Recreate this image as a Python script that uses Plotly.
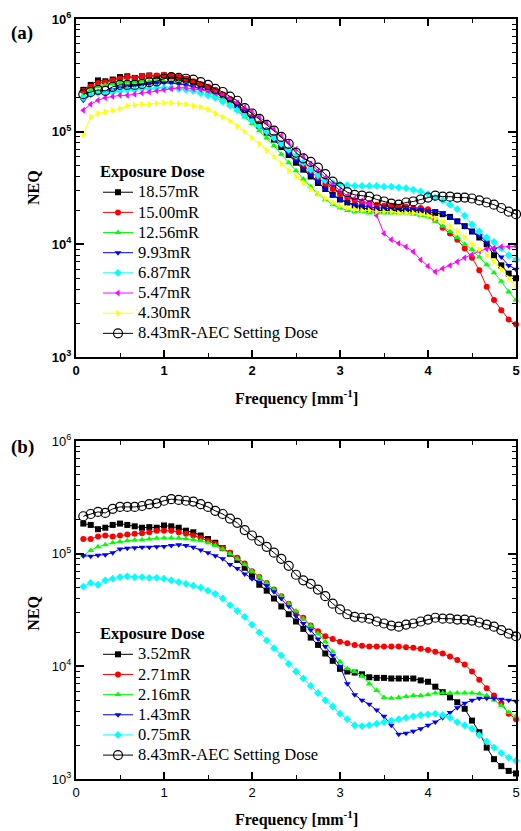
import plotly.graph_objects as go

# Spatial frequency sampling (mm^-1)
freq = [0.083, 0.167, 0.25, 0.333, 0.417, 0.5, 0.583, 0.667, 0.75, 0.833, 0.917, 1.0,
        1.083, 1.167, 1.25, 1.333, 1.417, 1.5, 1.583, 1.667, 1.75, 1.833, 1.917, 2.0,
        2.083, 2.167, 2.25, 2.333, 2.417, 2.5, 2.583, 2.667, 2.75, 2.833, 2.917, 3.0,
        3.083, 3.167, 3.25, 3.333, 3.417, 3.5, 3.583, 3.667, 3.75, 3.833, 3.917, 4.0,
        4.083, 4.167, 4.25, 4.333, 4.417, 4.5, 4.583, 4.667, 4.75, 4.833, 4.917, 5.0]

# AEC setting dose (shown in both panels)
neq_aec = [2.15e5, 2.25e5, 2.35e5, 2.3e5, 2.5e5, 2.6e5, 2.6e5, 2.6e5, 2.65e5, 2.75e5, 2.8e5, 2.95e5,
           3.05e5, 3.0e5, 2.95e5, 2.9e5, 2.75e5, 2.6e5, 2.4e5, 2.25e5, 2.05e5, 1.88e5, 1.62e5, 1.45e5,
           1.3e5, 1.15e5, 1.02e5, 9.0e4, 7.8e4, 6.5e4, 5.8e4, 5.4e4, 4.8e4, 4.2e4, 3.6e4, 3.2e4,
           2.9e4, 2.75e4, 2.7e4, 2.65e4, 2.5e4, 2.4e4, 2.3e4, 2.25e4, 2.35e4, 2.4e4, 2.5e4, 2.6e4,
           2.7e4, 2.65e4, 2.65e4, 2.6e4, 2.6e4, 2.55e4, 2.45e4, 2.35e4, 2.25e4, 2.1e4, 1.95e4, 1.85e4]

# Panel (a): higher exposure doses
neq_1857 = [2.35e5, 2.6e5, 2.85e5, 2.8e5, 2.9e5, 3.05e5, 3.1e5, 3.0e5, 3.1e5, 3.15e5, 3.1e5, 3.15e5,
            3.1e5, 3.0e5, 2.9e5, 2.75e5, 2.6e5, 2.45e5, 2.3e5, 2.1e5, 1.9e5, 1.7e5, 1.5e5, 1.3e5,
            1.12e5, 9.8e4, 8.5e4, 7.3e4, 6.2e4, 5.3e4, 4.6e4, 4.0e4, 3.5e4, 3.1e4, 2.75e4, 2.5e4,
            2.35e4, 2.2e4, 2.1e4, 2.05e4, 2.0e4, 2.0e4, 2.0e4, 2.0e4, 2.0e4, 2.0e4, 2.0e4, 1.95e4,
            1.9e4, 1.85e4, 1.75e4, 1.6e4, 1.45e4, 1.3e4, 1.15e4, 1.0e4, 8.0e3, 6.5e3, 5.5e3, 5.0e3]
neq_1500 = [2.3e5, 2.5e5, 2.7e5, 2.75e5, 2.85e5, 2.95e5, 3.05e5, 3.0e5, 3.1e5, 3.15e5, 3.15e5, 3.2e5,
            3.15e5, 3.05e5, 2.95e5, 2.8e5, 2.65e5, 2.5e5, 2.35e5, 2.15e5, 1.95e5, 1.75e5, 1.55e5, 1.35e5,
            1.18e5, 1.03e5, 9.0e4, 7.8e4, 6.7e4, 5.8e4, 5.0e4, 4.4e4, 3.9e4, 3.45e4, 3.1e4, 2.8e4,
            2.6e4, 2.45e4, 2.35e4, 2.3e4, 2.25e4, 2.2e4, 2.2e4, 2.15e4, 2.15e4, 2.1e4, 2.1e4, 2.05e4,
            1.65e4, 1.4e4, 1.25e4, 1.1e4, 9.2e3, 7.6e3, 5.9e3, 4.2e3, 3.2e3, 2.6e3, 2.15e3, 1.95e3]
neq_1256 = [2.1e5, 2.35e5, 2.5e5, 2.6e5, 2.65e5, 2.7e5, 2.75e5, 2.75e5, 2.8e5, 2.8e5, 2.8e5, 2.8e5,
            2.75e5, 2.7e5, 2.6e5, 2.5e5, 2.4e5, 2.25e5, 2.1e5, 1.95e5, 1.75e5, 1.55e5, 1.35e5, 1.18e5,
            1.02e5, 8.8e4, 7.5e4, 6.3e4, 5.3e4, 4.5e4, 3.8e4, 3.25e4, 2.8e4, 2.5e4, 2.25e4, 2.1e4,
            2.0e4, 1.95e4, 1.95e4, 1.9e4, 1.9e4, 1.9e4, 1.9e4, 1.9e4, 1.9e4, 1.85e4, 1.8e4, 1.75e4,
            1.6e4, 1.45e4, 1.3e4, 1.15e4, 1.0e4, 9.0e3, 7.7e3, 6.6e3, 5.6e3, 4.7e3, 3.8e3, 3.2e3]
neq_993 = [1.9e5, 2.1e5, 2.2e5, 2.25e5, 2.35e5, 2.45e5, 2.5e5, 2.55e5, 2.6e5, 2.65e5, 2.7e5, 2.7e5,
           2.7e5, 2.65e5, 2.6e5, 2.5e5, 2.4e5, 2.3e5, 2.2e5, 2.05e5, 1.9e5, 1.7e5, 1.5e5, 1.32e5,
           1.15e5, 1.0e5, 8.7e4, 7.5e4, 6.4e4, 5.5e4, 4.7e4, 4.1e4, 3.6e4, 3.1e4, 2.75e4, 2.5e4,
           2.35e4, 2.25e4, 2.2e4, 2.15e4, 2.1e4, 2.1e4, 2.05e4, 2.05e4, 2.05e4, 2.05e4, 2.05e4, 2.0e4,
           2.0e4, 1.9e4, 1.75e4, 1.6e4, 1.45e4, 1.3e4, 1.2e4, 1.05e4, 9.0e3, 7.7e3, 6.5e3, 6.0e3]
neq_687 = [2.0e5, 2.15e5, 2.2e5, 2.2e5, 2.25e5, 2.3e5, 2.35e5, 2.35e5, 2.4e5, 2.4e5, 2.45e5, 2.45e5,
           2.45e5, 2.4e5, 2.35e5, 2.3e5, 2.2e5, 2.1e5, 2.0e5, 1.85e5, 1.7e5, 1.55e5, 1.4e5, 1.25e5,
           1.12e5, 1.0e5, 8.8e4, 7.8e4, 6.9e4, 6.1e4, 5.3e4, 4.6e4, 4.1e4, 3.7e4, 3.5e4, 3.4e4,
           3.35e4, 3.3e4, 3.3e4, 3.3e4, 3.3e4, 3.25e4, 3.25e4, 3.2e4, 3.15e4, 3.05e4, 2.95e4, 2.8e4,
           2.6e4, 2.45e4, 2.25e4, 2.05e4, 1.8e4, 1.5e4, 1.3e4, 1.15e4, 1.05e4, 9.2e3, 8.0e3, 7.3e3]
neq_547 = [1.55e5, 1.75e5, 1.9e5, 2.0e5, 2.05e5, 2.1e5, 2.1e5, 2.15e5, 2.2e5, 2.25e5, 2.3e5, 2.35e5,
           2.4e5, 2.45e5, 2.45e5, 2.4e5, 2.35e5, 2.3e5, 2.2e5, 2.1e5, 1.95e5, 1.8e5, 1.65e5, 1.5e5,
           1.35e5, 1.2e5, 1.05e5, 9.2e4, 8.0e4, 7.0e4, 6.0e4, 5.2e4, 4.5e4, 3.9e4, 3.4e4, 3.0e4,
           2.7e4, 2.55e4, 2.45e4, 2.3e4, 1.8e4, 1.25e4, 1.1e4, 1.02e4, 9.5e3, 8.6e3, 7.3e3, 6.4e3,
           5.7e3, 6.1e3, 6.5e3, 7.0e3, 7.6e3, 8.1e3, 8.7e3, 9.1e3, 9.3e3, 9.5e3, 9.5e3, 9.6e3]
neq_430 = [9.4e4, 1.35e5, 1.45e5, 1.5e5, 1.55e5, 1.6e5, 1.7e5, 1.72e5, 1.75e5, 1.75e5, 1.78e5, 1.8e5,
           1.8e5, 1.78e5, 1.75e5, 1.7e5, 1.65e5, 1.58e5, 1.45e5, 1.35e5, 1.25e5, 1.12e5, 1.0e5, 8.8e4,
           7.8e4, 6.8e4, 6.0e4, 5.2e4, 4.5e4, 4.0e4, 3.5e4, 3.1e4, 2.8e4, 2.55e4, 2.35e4, 2.2e4,
           2.1e4, 2.05e4, 2.0e4, 2.0e4, 1.95e4, 1.95e4, 1.95e4, 1.9e4, 1.9e4, 1.9e4, 1.85e4, 1.8e4,
           1.7e4, 1.6e4, 1.45e4, 1.3e4, 1.15e4, 1.0e4, 9.0e3, 8.0e3, 7.0e3, 6.0e3, 5.0e3, 4.2e3]

# Panel (b): lower exposure doses
neq_352 = [1.85e5, 1.8e5, 1.65e5, 1.7e5, 1.8e5, 1.85e5, 1.8e5, 1.75e5, 1.7e5, 1.72e5, 1.7e5, 1.78e5,
           1.75e5, 1.7e5, 1.6e5, 1.55e5, 1.45e5, 1.35e5, 1.25e5, 1.12e5, 1.0e5, 8.8e4, 7.5e4, 6.3e4,
           5.3e4, 4.7e4, 4.0e4, 3.4e4, 2.9e4, 2.5e4, 2.15e4, 1.8e4, 1.55e4, 1.3e4, 1.12e4, 9.5e3,
           9.0e3, 8.8e3, 8.5e3, 8.0e3, 7.9e3, 7.9e3, 7.8e3, 7.8e3, 7.8e3, 7.8e3, 7.5e3, 7.3e3,
           6.6e3, 5.9e3, 5.3e3, 4.8e3, 4.2e3, 3.3e3, 2.6e3, 1.9e3, 1.5e3, 1.3e3, 1.18e3, 1.12e3]
neq_271 = [1.35e5, 1.35e5, 1.42e5, 1.45e5, 1.42e5, 1.45e5, 1.48e5, 1.5e5, 1.52e5, 1.55e5, 1.6e5, 1.6e5,
           1.6e5, 1.55e5, 1.5e5, 1.45e5, 1.38e5, 1.3e5, 1.22e5, 1.12e5, 1.02e5, 9.2e4, 8.2e4, 7.0e4,
           6.2e4, 5.5e4, 4.8e4, 4.2e4, 3.6e4, 3.0e4, 2.7e4, 2.3e4, 2.05e4, 1.85e4, 1.75e4, 1.65e4,
           1.6e4, 1.55e4, 1.52e4, 1.5e4, 1.5e4, 1.5e4, 1.5e4, 1.5e4, 1.48e4, 1.46e4, 1.43e4, 1.4e4,
           1.35e4, 1.3e4, 1.22e4, 1.14e4, 1.04e4, 9.0e3, 7.6e3, 6.4e3, 5.5e3, 4.7e3, 3.8e3, 3.4e3]
neq_216 = [9.6e4, 1.07e5, 1.15e5, 1.2e5, 1.25e5, 1.28e5, 1.3e5, 1.32e5, 1.33e5, 1.35e5, 1.37e5, 1.38e5,
           1.38e5, 1.38e5, 1.36e5, 1.33e5, 1.3e5, 1.25e5, 1.18e5, 1.1e5, 1.0e5, 9.0e4, 8.0e4, 7.0e4,
           6.2e4, 5.5e4, 4.8e4, 4.2e4, 3.6e4, 3.1e4, 2.65e4, 2.3e4, 1.95e4, 1.65e4, 1.35e4, 1.1e4,
           9.5e3, 9.0e3, 8.2e3, 7.0e3, 6.1e3, 5.3e3, 5.2e3, 5.3e3, 5.4e3, 5.5e3, 5.5e3, 5.6e3,
           5.8e3, 5.8e3, 5.8e3, 5.8e3, 5.8e3, 5.8e3, 5.7e3, 5.5e3, 5.0e3, 4.5e3, 3.9e3, 3.6e3]
neq_143 = [9.6e4, 9.5e4, 9.7e4, 9.8e4, 1.02e5, 1.1e5, 1.12e5, 1.13e5, 1.14e5, 1.14e5, 1.15e5, 1.16e5,
           1.18e5, 1.2e5, 1.18e5, 1.14e5, 1.08e5, 1.02e5, 9.6e4, 9.0e4, 8.0e4, 7.4e4, 6.6e4, 6.0e4,
           5.6e4, 5.2e4, 4.6e4, 4.0e4, 3.4e4, 2.8e4, 2.4e4, 2.1e4, 1.75e4, 1.5e4, 1.25e4, 1.0e4,
           7.0e3, 5.6e3, 5.0e3, 4.6e3, 4.1e3, 3.6e3, 3.0e3, 2.5e3, 2.55e3, 2.65e3, 2.8e3, 3.0e3,
           3.2e3, 3.5e3, 3.9e3, 4.3e3, 4.7e3, 5.0e3, 5.2e3, 5.2e3, 5.2e3, 5.1e3, 5.0e3, 4.9e3]
neq_075 = [5.1e4, 5.5e4, 5.3e4, 5.8e4, 6.0e4, 6.2e4, 6.3e4, 6.2e4, 6.2e4, 6.1e4, 6.1e4, 6.0e4,
           5.8e4, 5.6e4, 5.4e4, 5.2e4, 5.0e4, 4.7e4, 4.4e4, 4.0e4, 3.5e4, 3.1e4, 2.75e4, 2.35e4,
           2.0e4, 1.7e4, 1.45e4, 1.25e4, 1.05e4, 9.0e3, 7.8e3, 6.7e3, 5.8e3, 5.0e3, 4.4e3, 3.8e3,
           3.4e3, 3.0e3, 2.95e3, 3.0e3, 3.1e3, 3.2e3, 3.3e3, 3.4e3, 3.5e3, 3.6e3, 3.7e3, 3.75e3,
           3.8e3, 3.7e3, 3.5e3, 3.2e3, 3.0e3, 2.8e3, 2.45e3, 2.15e3, 1.9e3, 1.7e3, 1.55e3, 1.45e3]

labels_a = ["18.57mR", "15.00mR", "12.56mR", "9.93mR", "6.87mR", "5.47mR", "4.30mR"]
labels_b = ["3.52mR", "2.71mR", "2.16mR", "1.43mR", "0.75mR"]
aec_label = "8.43mR-AEC Setting Dose"
legend_title = "Exposure Dose"

series_a = [neq_1857, neq_1500, neq_1256, neq_993, neq_687, neq_547, neq_430]
series_b = [neq_352, neq_271, neq_216, neq_143, neq_075]

colors_a = ["#000000", "#FF0000", "#00FF00", "#0000FF", "#00FFFF", "#FF00FF", "#FFFF00"]
symbols_a = ["square", "circle", "triangle-up", "triangle-down", "diamond", "triangle-left", "triangle-right"]
colors_b = colors_a[:5]
symbols_b = symbols_a[:5]

SERIF = "Liberation Serif, Times New Roman, serif"
SANS = "Liberation Sans, Arial, sans-serif"
# legend rows are spaced by the legend font size; the label text itself is drawn larger
LEGEND_ROW_FONT = 13.2
LEGEND_TEXT_PX = 16.5


def big(txt, bold=False):
    inner = "<b>%s</b>" % txt if bold else txt
    return '<span style="font-size:%spx">%s</span>' % (LEGEND_TEXT_PX, inner)


fig = go.Figure()


def add_series(x_ax, y_ax, legend, names, data, colors, symbols):
    for name, ys, c, s in zip(names, data, colors, symbols):
        fig.add_trace(go.Scatter(
            x=freq, y=ys, name=big(name), mode="lines+markers",
            line=dict(color=c, width=1),
            marker=dict(symbol=s, size=6, color=c, line=dict(width=0)),
            xaxis=x_ax, yaxis=y_ax, legend=legend, cliponaxis=False))
    fig.add_trace(go.Scatter(
        x=freq, y=neq_aec, name=big(aec_label), mode="lines+markers",
        line=dict(color="#000000", width=1),
        marker=dict(symbol="circle-open", size=9, color="#000000", line=dict(width=1.2)),
        xaxis=x_ax, yaxis=y_ax, legend=legend, cliponaxis=False))


add_series("x", "y", "legend", labels_a, series_a, colors_a, symbols_a)
add_series("x2", "y2", "legend2", labels_b, series_b, colors_b, symbols_b)

x_major = [0, 1, 2, 3, 4, 5]
x_minor = [0.5, 1.5, 2.5, 3.5, 4.5]
y_major = [1e3, 1e4, 1e5, 1e6]
y_text = ["10<sup>3</sup>", "10<sup>4</sup>", "10<sup>5</sup>", "10<sup>6</sup>"]
y_minor = [m * d for d in (1e3, 1e4, 1e5) for m in range(2, 10)]


def xaxis_style(anchor, bold):
    return dict(range=[0, 5], anchor=anchor, domain=[0, 1],
                tickvals=x_major, ticktext=[str(v) for v in x_major],
                ticks="inside", ticklen=7, tickwidth=1.5, tickcolor="black",
                minor=dict(tickvals=x_minor, ticks="inside", ticklen=4, tickwidth=1.2, tickcolor="black"),
                showline=True, linewidth=2, linecolor="black", mirror="allticks",
                showgrid=False, zeroline=False, ticklabeloverflow="allow",
                tickfont=dict(family=SANS, size=13, color="black", weight="bold" if bold else "normal"))


def yaxis_style(anchor, domain, bold):
    return dict(type="log", range=[3, 6], anchor=anchor, domain=domain,
                tickvals=y_major, ticktext=y_text,
                ticks="inside", ticklen=8, tickwidth=1.5, tickcolor="black",
                minor=dict(tickvals=y_minor, ticks="inside", ticklen=4, tickwidth=1.2, tickcolor="black"),
                showline=True, linewidth=2, linecolor="black", mirror="allticks",
                showgrid=False, zeroline=False,
                tickfont=dict(family=SANS, size=13, color="black", weight="bold" if bold else "normal"))


legend_common = dict(
    bgcolor="rgba(0,0,0,0)", borderwidth=0, xanchor="left", yanchor="top",
    font=dict(family=SERIF, size=LEGEND_ROW_FONT, color="black"),
    title=dict(text=big(legend_title, bold=True),
               font=dict(family=SERIF, size=LEGEND_ROW_FONT, color="black")),
    itemwidth=30, tracegroupgap=0)

fig.update_layout(
    width=521, height=831,
    margin=dict(l=76, r=1, t=19, b=52),
    paper_bgcolor="white", plot_bgcolor="white",
    showlegend=True,
    xaxis=xaxis_style("y", True),
    yaxis=yaxis_style("x", [0.5553, 1], True),
    xaxis2=xaxis_style("y2", False),
    yaxis2=yaxis_style("x2", [0, 0.4447], False),
    legend=dict(x=0.05, y=0.8145, **legend_common),
    legend2=dict(x=0.05, y=0.2065, **legend_common),
)

ann_font = dict(family=SERIF, size=16, color="black")


def note(text, x, y, font, angle=0):
    return dict(text=text, x=x, y=y, xref="paper", yref="paper", xanchor="center",
                yanchor="middle", textangle=angle, showarrow=False, font=font)


annotations = [
    note("<b>(a)</b>", -0.122, 0.9816, dict(family=SERIF, size=19, color="black")),
    note("<b>(b)</b>", -0.122, 0.4368, dict(family=SERIF, size=19, color="black")),
    note("<b>NEQ</b>", -0.097, 0.778, ann_font, angle=-90),
    note("<b>NEQ</b>", -0.097, 0.218, ann_font, angle=-90),
    note("<b>Frequency [mm<sup>-1</sup>]</b>", 0.5, 0.5026, dict(family=SERIF, size=16, color="black")),
    note("<b>Frequency [mm<sup>-1</sup>]</b>", 0.5, -0.0526, dict(family=SERIF, size=16, color="black")),
]
fig.update_layout(annotations=annotations)

fig.write_html("out.html")
